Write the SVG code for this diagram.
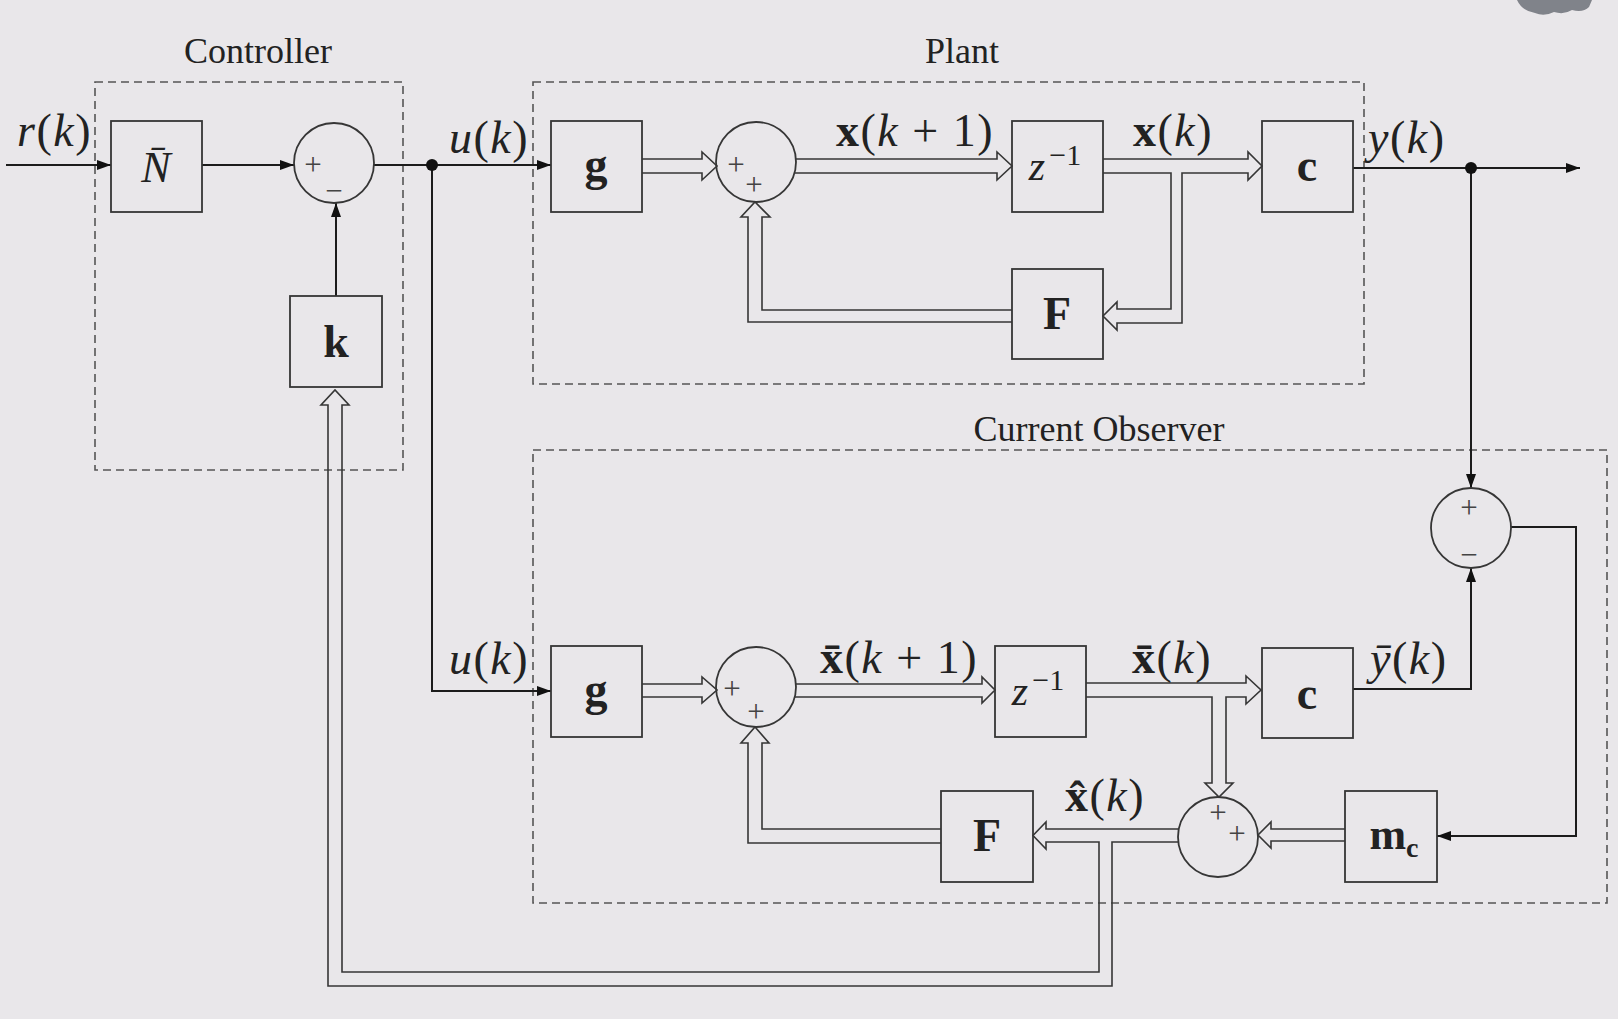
<svg xmlns="http://www.w3.org/2000/svg" width="1618" height="1019" viewBox="0 0 1618 1019">
<style>
.bg{fill:#e9e7ea}
.box{fill:none;stroke:#363636;stroke-width:1.8}
.grp{fill:none;stroke:#555;stroke-width:1.6;stroke-dasharray:8 5}
.sum{fill:none;stroke:#363636;stroke-width:1.8}
.sig{fill:none;stroke:#1c1c1c;stroke-width:2}
.ha{fill:none;stroke:#363636;stroke-width:1.6;stroke-linejoin:miter}
.dot{fill:#111}
.t{font-family:"Liberation Serif","DejaVu Serif",serif;fill:#222}
.title{font-size:36px;text-anchor:middle}
.lbl{font-size:46px;font-weight:bold;text-anchor:middle}
.math{font-size:46px;letter-spacing:1.5px}
.sg{font-size:31px;text-anchor:middle;fill:#444}
.it{font-style:italic}
.b{font-weight:bold}
</style>
<defs>
<marker id="ah" markerUnits="userSpaceOnUse" markerWidth="15" markerHeight="11" refX="14" refY="5" orient="auto" viewBox="0 0 15 11">
<path d="M0,0 L14,5 L0,10 Z" fill="#111"/>
</marker>
</defs>
<rect class="bg" x="0" y="0" width="1618" height="1019"/>
<path d="M1517,0 H1592 L1589,7 Q1583,13 1572,10 Q1564,15 1554,12 Q1544,17 1535,13 Q1522,11 1517,0 Z" fill="#80838a"/>

<g id="groups">
<rect class="grp" x="95" y="82" width="308" height="388"/>
<rect class="grp" x="533" y="82" width="831" height="302"/>
<rect class="grp" x="533" y="450" width="1074" height="453"/>
<text class="t title" x="258" y="63">Controller</text>
<text class="t title" x="962" y="63">Plant</text>
<text class="t title" x="1099" y="441">Current Observer</text>
</g>

<g id="connectors">
<path class="sig" d="M6,165 H111" marker-end="url(#ah)"/>
<path class="sig" d="M202,165 H294" marker-end="url(#ah)"/>
<path class="sig" d="M374,165 H551" marker-end="url(#ah)"/>
<path class="sig" d="M432,165 V691 H551" marker-end="url(#ah)"/>
<path class="sig" d="M336,296 V203" marker-end="url(#ah)"/>
<path class="sig" d="M1353,168 H1580" marker-end="url(#ah)"/>
<path class="sig" d="M1471,168 V488" marker-end="url(#ah)"/>
<path class="sig" d="M1511,527 H1576 V836 H1437" marker-end="url(#ah)"/>
<path class="sig" d="M1353,689 H1471 V568" marker-end="url(#ah)"/>
<circle class="dot" cx="432" cy="165" r="6"/>
<circle class="dot" cx="1471" cy="168" r="6"/>
<path class="ha" d="M642,159 H702 V152 L717,166 L702,180 V173 H642"/>
<path class="ha" d="M795,159 H997 V152 L1012,166 L997,180 V173 H795"/>
<path class="ha" d="M1103,159 H1248 V152 L1262,166 L1248,180 V173 H1182 V323 H1117 V330 L1103,316 L1117,302 V309 H1171 V173 H1103"/>
<path class="ha" d="M1012,310 H762 V217 H770 L755,202 L741,217 H748 V322 H1012"/>
<path class="ha" d="M642,684 H702 V677 L717,690 L702,703 V697 H642"/>
<path class="ha" d="M795,684 H982 V677 L995,690 L982,703 V697 H795"/>
<path class="ha" d="M1086,683 H1246 V676 L1261,690 L1246,704 V697 H1226 V783 H1233 L1219,797 L1205,783 H1212 V697 H1086"/>
<path class="ha" d="M1345,829 H1271 V822 L1258,835 L1271,848 V841 H1345"/>
<path class="ha" d="M1179,829 H1046 V822 L1033,835.5 L1046,849 V842 H1099 V972 H342 V405 H349 L335,390 L321,405 H328 V986 H1112 V842 H1179"/>
<path class="ha" d="M941,829 H762 V743 H769 L755,727 L741,743 H748 V843 H941"/>
</g>

<g id="labels">
<text class="t math" x="17" y="146"><tspan class="it">r</tspan>(<tspan class="it">k</tspan>)</text>
<text class="t math" x="449" y="153"><tspan class="it">u</tspan>(<tspan class="it">k</tspan>)</text>
<text class="t math" x="836" y="146"><tspan class="b">x</tspan>(<tspan class="it">k</tspan> + 1)</text>
<text class="t math" x="1133" y="146"><tspan class="b">x</tspan>(<tspan class="it">k</tspan>)</text>
<text class="t math" x="1368" y="153"><tspan class="it">y</tspan>(<tspan class="it">k</tspan>)</text>
<text class="t math" x="449" y="674"><tspan class="it">u</tspan>(<tspan class="it">k</tspan>)</text>
<text class="t math" x="820" y="673"><tspan class="b">x̄</tspan>(<tspan class="it">k</tspan> + 1)</text>
<text class="t math" x="1132" y="673"><tspan class="b">x̄</tspan>(<tspan class="it">k</tspan>)</text>
<text class="t math" x="1370" y="674"><tspan class="it">ȳ</tspan>(<tspan class="it">k</tspan>)</text>
<text class="t math" x="1065" y="811"><tspan class="b">x̂</tspan>(<tspan class="it">k</tspan>)</text>
</g>

<g id="node-Nbar"><rect class="box" x="111" y="121" width="91" height="91"/><text class="t it" x="156" y="182" font-size="44" text-anchor="middle">N̄</text></g>
<g id="node-sum1"><circle class="sum" cx="334" cy="163" r="40"/><text class="t sg" x="313" y="175">+</text><text class="t sg" x="334" y="201">−</text></g>
<g id="node-k"><rect class="box" x="290" y="296" width="92" height="91"/><text class="t lbl" x="336" y="357">k</text></g>
<g id="node-g"><rect class="box" x="551" y="121" width="91" height="91"/><text class="t lbl" x="596" y="180">g</text></g>
<g id="node-sum2"><circle class="sum" cx="756" cy="162" r="40"/><text class="t sg" x="736" y="175">+</text><text class="t sg" x="754" y="195">+</text></g>
<g id="node-z"><rect class="box" x="1012" y="121" width="91" height="91"/><text class="t" x="1055" y="180" font-size="42" text-anchor="middle"><tspan class="it">z</tspan><tspan font-size="30" dx="4" dy="-15">−1</tspan></text></g>
<g id="node-c"><rect class="box" x="1262" y="121" width="91" height="91"/><text class="t lbl" x="1307" y="181">c</text></g>
<g id="node-F"><rect class="box" x="1012" y="269" width="91" height="90"/><text class="t lbl" x="1057" y="329">F</text></g>
<g id="node-g2"><rect class="box" x="551" y="646" width="91" height="91"/><text class="t lbl" x="596" y="705">g</text></g>
<g id="node-sum3"><circle class="sum" cx="756" cy="687" r="40"/><text class="t sg" x="732" y="699">+</text><text class="t sg" x="756" y="722">+</text></g>
<g id="node-z2"><rect class="box" x="995" y="646" width="91" height="91"/><text class="t" x="1038" y="705" font-size="42" text-anchor="middle"><tspan class="it">z</tspan><tspan font-size="30" dx="4" dy="-15">−1</tspan></text></g>
<g id="node-c2"><rect class="box" x="1262" y="648" width="91" height="90"/><text class="t lbl" x="1307" y="709">c</text></g>
<g id="node-sum4"><circle class="sum" cx="1471" cy="528" r="40"/><text class="t sg" x="1469" y="518">+</text><text class="t sg" x="1469" y="565">−</text></g>
<g id="node-sum5"><circle class="sum" cx="1218" cy="837" r="40"/><text class="t sg" x="1218" y="823">+</text><text class="t sg" x="1237" y="844">+</text></g>
<g id="node-F2"><rect class="box" x="941" y="791" width="92" height="91"/><text class="t lbl" x="987" y="851">F</text></g>
<g id="node-mc"><rect class="box" x="1345" y="791" width="92" height="91"/><text class="t b" x="1394" y="849" font-size="44" text-anchor="middle">m<tspan font-size="28" dy="8">c</tspan></text></g>
</svg>
